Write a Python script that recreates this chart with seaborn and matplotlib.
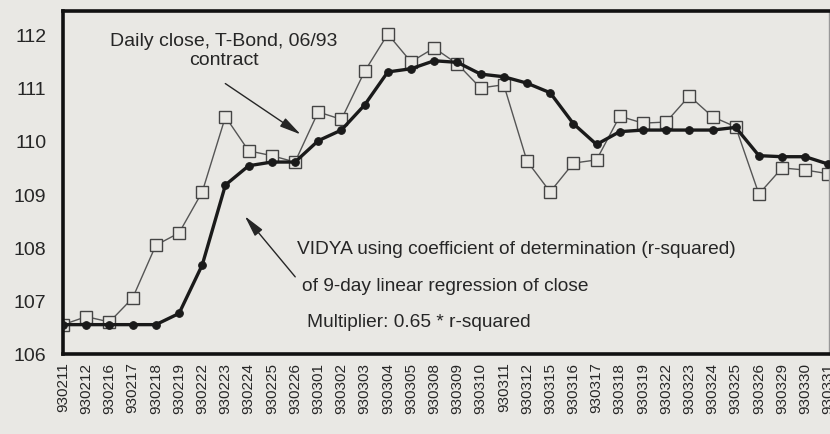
import matplotlib
matplotlib.use("Agg")
import matplotlib.pyplot as plt
import seaborn as sns
import pandas as pd

# Trading days, Feb-Mar 1993
dates = ["930211", "930212", "930216", "930217", "930218", "930219", "930222",
         "930223", "930224", "930225", "930226", "930301", "930302", "930303",
         "930304", "930305", "930308", "930309", "930310", "930311", "930312",
         "930315", "930316", "930317", "930318", "930319", "930322", "930323",
         "930324", "930325", "930326", "930329", "930330", "930331"]

# Daily close, T-Bond 06/93
close = [106.55, 106.70, 106.60, 107.05, 108.04, 108.27, 109.04,
         110.45, 109.81, 109.72, 109.60, 110.54, 110.40, 111.30,
         112.00, 111.48, 111.74, 111.44, 110.99, 111.05, 109.62,
         109.04, 109.58, 109.64, 110.46, 110.33, 110.35, 110.84,
         110.45, 110.26, 109.00, 109.49, 109.45, 109.38]

# VIDYA (r-squared based)
vidya = [106.55, 106.55, 106.55, 106.55, 106.55, 106.76, 107.67,
         109.17, 109.53, 109.60, 109.60, 110.00, 110.20, 110.67,
         111.29, 111.35, 111.50, 111.47, 111.25, 111.20, 111.08,
         110.90, 110.32, 109.93, 110.17, 110.20, 110.20, 110.20,
         110.20, 110.25, 109.72, 109.70, 109.70, 109.56]

df = pd.DataFrame({"date": dates, "close": close, "vidya": vidya})

paper = "#e9e8e4"
ink = "#262626"

sns.set_style("white")
plt.rcParams["font.family"] = ["Liberation Sans", "DejaVu Sans"]

fig = plt.figure(figsize=(8.3, 4.35), dpi=100, facecolor=paper)
ax = fig.add_axes([0.076, 0.184, 0.923, 0.788])
ax.set_facecolor(paper)

sns.lineplot(data=df, x="date", y="close", sort=False, ax=ax, color="#555555",
             linewidth=1.0, marker="s", markersize=8, markerfacecolor=paper,
             markeredgecolor="#444444", markeredgewidth=1.0, zorder=2)
sns.lineplot(data=df, x="date", y="vidya", sort=False, ax=ax, color="#1a1a1a",
             linewidth=2.4, marker="o", markersize=5.5, markerfacecolor="#1a1a1a",
             markeredgecolor="#1a1a1a", zorder=3)

ax.set_xlim(0, len(dates) - 0.97)
ax.set_ylim(106, 112.43)
ax.set_yticks([106, 107, 108, 109, 110, 111, 112])
ax.set_xlabel("")
ax.set_ylabel("")

ax.tick_params(axis="y", direction="inout", length=6, width=1, colors=ink,
               labelsize=14, pad=9)
ax.tick_params(axis="x", direction="inout", length=5, width=1, colors=ink,
               labelsize=11, labelrotation=90, pad=3)

for side in ["left", "bottom", "top"]:
    ax.spines[side].set_color("#111111")
    ax.spines[side].set_linewidth(2.6)
ax.spines["right"].set_color("#999999")
ax.spines["right"].set_linewidth(1.0)

arrow = dict(arrowstyle="-|>,head_length=1.3,head_width=0.3", color=ink, lw=1.0)
ax.annotate("", xy=(303, 435 - 137), xycoords="figure pixels",
            xytext=(223, 435 - 83), textcoords="figure pixels", arrowprops=arrow)
ax.text(224, 435 - 51, "Daily close, T-Bond, 06/93\ncontract",
        transform=None, ha="center", va="center", fontsize=14, color=ink,
        linespacing=1.2)

ax.annotate("", xy=(243, 435 - 215), xycoords="figure pixels",
            xytext=(297, 435 - 280), textcoords="figure pixels", arrowprops=arrow)
ax.text(297, 435 - 250, "VIDYA using coefficient of determination (r-squared)",
        transform=None, ha="left", va="center", fontsize=13.8, color=ink)
ax.text(302, 435 - 287, "of 9-day linear regression of close",
        transform=None, ha="left", va="center", fontsize=13.8, color=ink)
ax.text(307, 435 - 323, "Multiplier: 0.65 * r-squared",
        transform=None, ha="left", va="center", fontsize=13.8, color=ink)

fig.savefig("out.png", dpi=100, facecolor=paper)
